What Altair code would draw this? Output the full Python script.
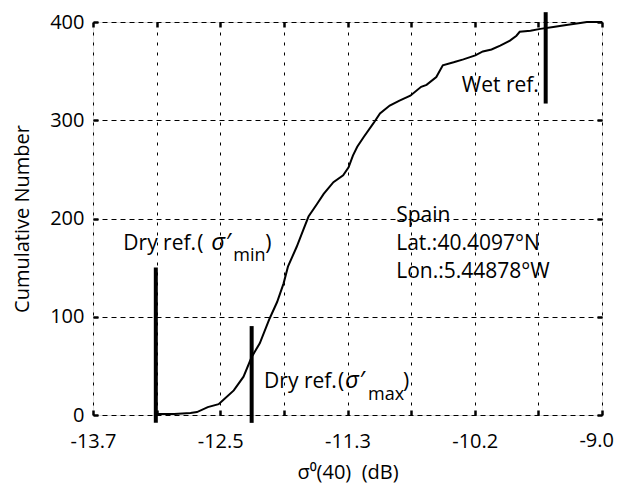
import altair as alt
import pandas as pd

# ---- data ----
sigma = [-13.10, -12.95, -12.80, -12.74, -12.64, -12.54, -12.50, -12.40, -12.31, -12.235,
         -12.16, -12.07, -12.00, -11.94, -11.90, -11.82, -11.76, -11.71, -11.63, -11.57,
         -11.48, -11.39, -11.34, -11.30, -11.26, -11.20, -11.11, -11.05, -10.96, -10.87,
         -10.77, -10.67, -10.62, -10.53, -10.47, -10.37, -10.28, -10.17, -10.10, -10.02,
         -9.94, -9.85, -9.79, -9.76, -9.66, -9.57, -9.45, -9.33, -9.20, -9.14, -9.00]
count = [1, 1, 2, 3, 8, 11, 15, 25, 39, 59,
         73, 98, 115, 134, 151, 171, 188, 202, 215, 225,
         237, 244, 252, 264, 273, 283, 297, 307, 315, 320,
         325, 334, 336, 344, 356, 359, 362, 366, 370, 372,
         376, 381, 386, 390, 391, 393, 395, 397, 399, 400, 400]

ref_names = ["dry_min", "dry_max", "wet"]
ref_x = [-13.12, -12.235, -9.52]
ref_lo = [-8, -8, 317]
ref_hi = [150, 90.5, 410]

x_domain = [-13.7, -9.0]
x_ticks = [-13.7 + k * 0.5875 for k in range(9)]
NB = "\u00a0"
# last label ("-9.0") sits at the right frame edge; drawn as a text mark below
x_tick_labels = ["-13.7", "", "-12.5", "", "-11.3", "", "-10.2", "", ""]
last_label = "-9.0"
y_ticks = [0, 100, 200, 300, 400]

FONT = "Open Sans"
W, H = 509, 393
TS = 21  # annotation font size

label_expr = "".join(
    f"abs(datum.value - ({v})) < 0.01 ? '{t}' : " for v, t in zip(x_ticks, x_tick_labels)
) + "''"

xs = alt.Scale(domain=x_domain, nice=False, zero=False)
ys = alt.Scale(domain=[0, 400], nice=False, zero=False)

common_tick = dict(domain=False, ticks=True, tickSize=5, tickWidth=2.5, tickColor="black",
                   offset=-5, labelColor="black", labelFontSize=20, labelFont=FONT,
                   titleColor="black", titleFont=FONT, titleFontSize=20,
                   titleFontWeight="normal", labelFlush=False, labelOverlap=False,
                   labelBound=False)

x_bottom = alt.Axis(orient="bottom", values=x_ticks, labelExpr=label_expr, grid=True,
                    gridDash=[3, 7], gridColor="black", gridWidth=1, gridOpacity=1,
                    labelPadding=16, title="σ⁰(40)" + NB + NB + "(dB)", titlePadding=11,
                    **common_tick)
y_left = alt.Axis(orient="left", values=y_ticks, grid=True, gridDash=[5, 4],
                  gridColor="black", gridWidth=1, gridOpacity=1, labelPadding=9,
                  title="Cumulative Number", titlePadding=17, **common_tick)
x_top = alt.Axis(orient="top", values=x_ticks, labels=False, grid=False, title=None,
                 **common_tick)
y_right = alt.Axis(orient="right", values=y_ticks, labels=False, grid=False, title=None,
                   **common_tick)

line_df = pd.DataFrame({"s": sigma, "n": count})
ref_df = pd.DataFrame({"name": ref_names, "x": ref_x, "lo": ref_lo, "hi": ref_hi})

curve = alt.Chart(line_df).mark_line(color="black", strokeWidth=2).encode(
    x=alt.X("s:Q", scale=xs, axis=x_bottom),
    y=alt.Y("n:Q", scale=ys, axis=y_left),
)

rules = alt.Chart(ref_df).mark_rule(color="black", strokeWidth=4, clip=False).encode(
    x=alt.X("x:Q", scale=xs, axis=x_top),
    y=alt.Y("lo:Q", scale=ys, axis=y_right),
    y2="hi:Q",
)


def piece(xv, yv, text, dx=0, dy=0, size=TS, style="normal", align="left"):
    df = pd.DataFrame({"x": [xv], "y": [yv], "t": [text]})
    return alt.Chart(df).mark_text(
        align=align, baseline="alphabetic", font=FONT, fontSize=size,
        fontStyle=style, color="black", dx=dx, dy=dy, clip=False
    ).encode(
        x=alt.X("x:Q", scale=xs, axis=None),
        y=alt.Y("y:Q", scale=ys, axis=None),
        text="t:N",
    )


texts = [
    piece(x_domain[1], 0, last_label, dx=12, dy=32, size=20, align="right"),
    piece(-10.295, 328.8, "Wet ref."),
    piece(-10.90, 196.6, "Spain"),
    piece(-10.90, 167.8, "Lat.:40.4097°N"),
    piece(-10.90, 139.3, "Lon.:5.44878°W"),
    # Dry ref. (sigma'_min)
    piece(-13.42, 167.8, "Dry ref."),
    piece(-13.42, 167.8, "(", dx=74),
    piece(-13.42, 167.8, "σ′", dx=88, size=24, style="italic"),
    piece(-13.42, 167.8, "min", dx=110, dy=11, size=18),
    piece(-13.42, 167.8, ")", dx=142),
    # Dry ref. (sigma'_max)
    piece(-12.12, 27.5, "Dry ref."),
    piece(-12.12, 27.5, "(", dx=74),
    piece(-12.12, 27.5, "σ′", dx=81, size=24, style="italic"),
    piece(-12.12, 27.5, "max", dx=104, dy=12, size=18),
    piece(-12.12, 27.5, ")", dx=139),
]

chart = alt.layer(curve, rules, *texts).resolve_axis(
    x="independent", y="independent"
).properties(
    width=W, height=H,
    autosize=alt.AutoSizeParams(type="none"),
    padding={"left": 85, "top": 14, "right": 13, "bottom": 68},
).configure_view(
    stroke="black", strokeWidth=2.5
).configure(font=FONT)

chart.save("out.html", embed_options={"renderer": "svg", "actions": False})
